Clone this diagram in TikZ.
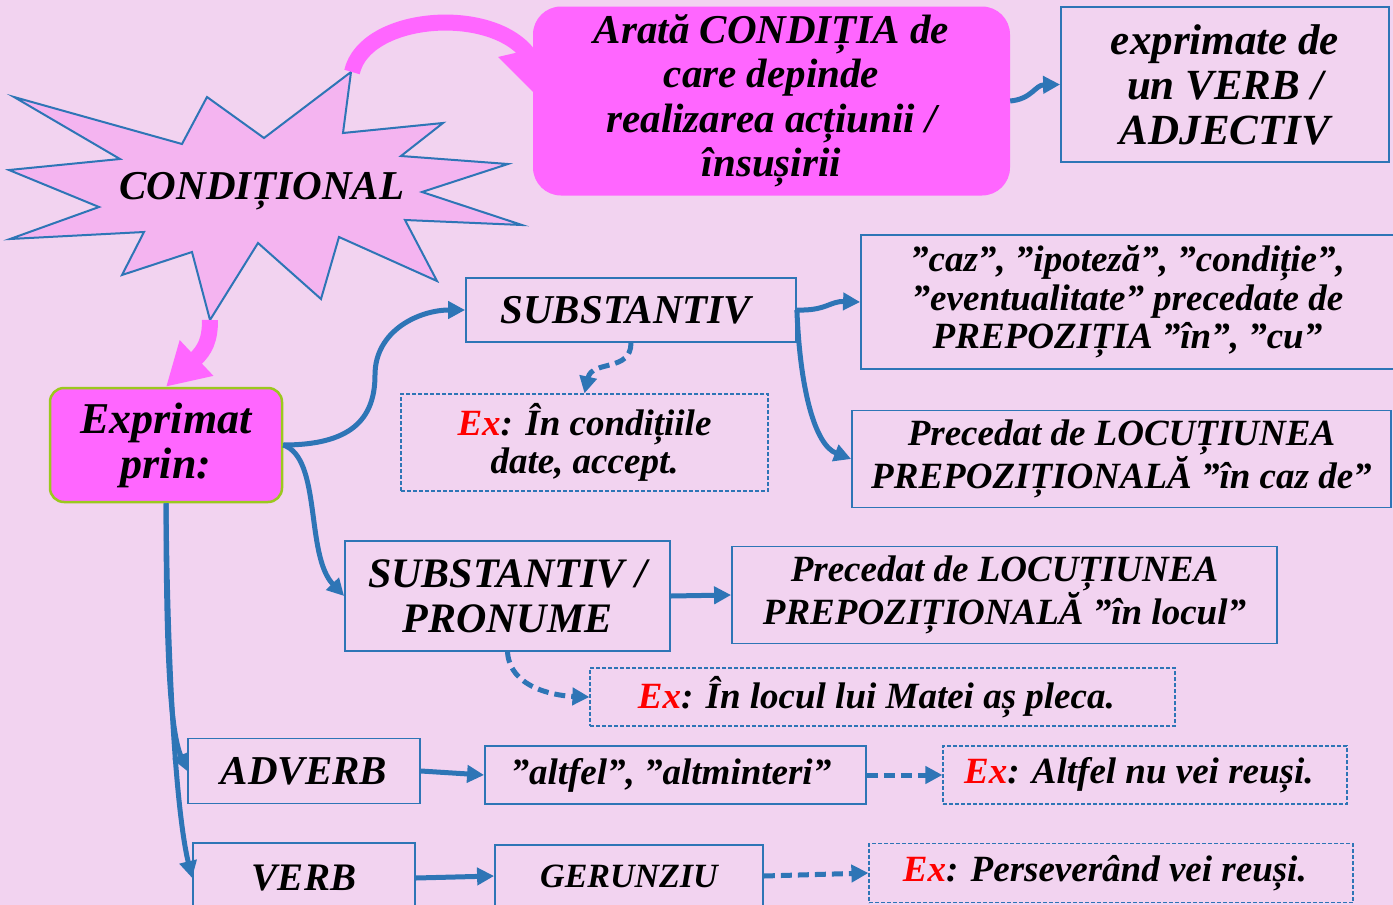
\documentclass[tikz,border=0pt]{standalone}
\usepackage{fontspec}
\setmainfont{Liberation Serif}
\usetikzlibrary{arrows.meta, positioning}

\definecolor{bgpink}{RGB}{242,211,240}
\definecolor{starpink}{RGB}{244,180,240}
\definecolor{hotpink}{RGB}{255,102,255}
\definecolor{lineblue}{RGB}{46,117,182}
\definecolor{limegreen}{RGB}{155,200,30}

\begin{document}
\begin{tikzpicture}[
    x=1pt, y=-1pt,
    box/.style={rectangle, draw=lineblue, line width=1.8pt,
                align=center, inner sep=0pt},
    exbox/.style={box, line width=1.2pt, dash pattern=on 4pt off 2pt},
    pinkbox/.style={rectangle, fill=hotpink, rounded corners=28pt,
                align=center, inner sep=0pt},
    arrow/.style={-{Triangle[length=17pt,width=17pt]}, line width=5pt, draw=lineblue},
    dasharrow/.style={arrow, dash pattern=on 11pt off 6pt},
    pinkarrow/.style={line width=16pt, draw=hotpink},
    fbig/.style={font=\fontsize{41}{45}\selectfont\bfseries\itshape},
    fmid/.style={font=\fontsize{42}{45}\selectfont\bfseries\itshape},
    fsmall/.style={font=\fontsize{37}{38.5}\selectfont\bfseries\itshape}
]
\useasboundingbox (0,0) rectangle (1393,905);
\clip (0,0) rectangle (1393,905);
\fill[bgpink] (0,0) rectangle (1393,905);

%% CONDITIONAL
\filldraw[fill=starpink, draw=lineblue, line width=2pt]
    (14,97) -- (182,144) -- (207,97) -- (264,138) -- (351,72) -- (343,133)
    -- (443,123) -- (401,156) -- (508,164) -- (422,192) -- (522,225)
    -- (405,220) -- (437,281) -- (339,237) -- (321,299) -- (258,243)
    -- (210,320) -- (192,252) -- (122,275) -- (144,232) -- (10,239)
    -- (99,207) -- (9,170) -- (120,159) -- cycle;
\node[fbig] (cond) at (262,191) {CONDIȚIONAL};
\coordinate (startop) at (352,72);
\coordinate (starbot) at (210,320);

%% ARATA
\node[pinkbox, font=\fontsize{41}{44.5}\selectfont\bfseries\itshape,
      minimum width=477pt, minimum height=189pt] (arata) at (771.5,101) {
    Arată CONDIȚIA de\\
    care depinde\\
    realizarea acțiunii /\\
    însușirii
};
\fill[hotpink] (498,57) -- (545,46) -- (545,104) -- cycle;
\draw[pinkarrow] (startop) .. controls (365,15) and (490,5) .. (528,54);

\node[box, font=\fontsize{43}{45}\selectfont\bfseries\itshape,
      minimum width=328pt, minimum height=155pt] (verbadj) at (1225,84.5) {
    exprimate de\\
    un VERB /\\
    ADJECTIV
};
\draw[arrow] (arata.east) .. controls (1032,99) and (1035,85) .. (verbadj.west);

%% EXPRIMAT PRIN
\node[pinkbox, draw=limegreen, line width=2.5pt, rounded corners=14pt,
      font=\fontsize{44}{45}\selectfont\bfseries\itshape,
      minimum width=232pt, minimum height=114pt] (prin) at (166,445) {
    Exprimat\\
    prin:
};
\draw[pinkarrow, -{Triangle[length=42pt,width=46pt]}]
    (starbot) .. controls (210,340) and (205,350) .. (prin.north);

%% SUBSTANTIV
\node[box, fbig, minimum width=330pt, minimum height=64pt] (subst) at (631,310) {
    SUBSTANTIV
};
\draw[arrow] (prin.east) .. controls (350,445) and (375,420) .. (375,375)
    .. controls (375,330) and (420,310) .. (subst.west);

\node[exbox, fsmall, minimum width=367pt, minimum height=97pt] (excond) at (584.5,442.5) {
    \textcolor{red}{Ex}: În condițiile\\
    date, accept.
};
\draw[dasharrow] (subst.south) .. controls (631,372) and (592,360) .. (excond.north);

\node[box, fsmall, minimum width=533pt, minimum height=134pt] (caz) at (1127.5,302) {
    ”caz”, ”ipoteză”, ”condiție”,\\
    ”eventualitate” precedate de\\
    PREPOZIȚIA ”în”, ”cu”
};
\draw[arrow] (subst.east) .. controls (826,311) and (830,301) .. (caz.west);

\node[box, fsmall, minimum width=539pt, minimum height=97pt] (cazde) at (1121.5,459) {
    Precedat de LOCUȚIUNEA\\
    PREPOZIȚIONALĂ ”în caz de”
};
\draw[arrow] (subst.east) .. controls (800,390) and (815,445) .. (cazde.west);

%% SUBSTANTIV / PRONUME
\node[box, fmid, minimum width=325pt, minimum height=110pt] (subpron) at (507.5,596) {
    SUBSTANTIV /\\
    PRONUME
};
\draw[arrow] (prin.east) .. controls (322,458) and (305,555) .. (subpron.west);

\node[box, fsmall, minimum width=545pt, minimum height=97pt] (locul) at (1004.5,595) {
    Precedat de LOCUȚIUNEA\\
    PREPOZIȚIONALĂ ”în locul”
};
\draw[arrow] (subpron.east) -- (locul.west);

\node[exbox, fsmall, minimum width=585pt, minimum height=58pt] (exlocul) at (882.5,697) {
    \textcolor{red}{Ex}: În locul lui Matei aș pleca.
};
\draw[dasharrow] (subpron.south) .. controls (510,690) and (560,696) .. (exlocul.west);

%% ADVERB
\node[box, fbig, minimum width=232pt, minimum height=65pt] (adverb) at (304,771) {ADVERB};
\draw[arrow] (prin.south) .. controls (166,650) and (170,730) .. (adverb.west);

\node[box, fsmall, minimum width=381pt, minimum height=58pt] (altfel) at (675.5,775) {
    ”altfel”, ”altminteri”
};
\draw[arrow] (adverb.east) -- (altfel.west);

\node[exbox, fsmall, minimum width=404pt, minimum height=58pt] (exaltfel) at (1145,775) {
    \textcolor{red}{Ex}: Altfel nu vei reuși.
};
\draw[dasharrow] (altfel.east) -- (exaltfel.west);

%% VERB
\node[box, font=\fontsize{39}{45}\selectfont\bfseries\itshape,
      minimum width=222pt, minimum height=70pt] (verb) at (304,878) {VERB};
\draw[arrow] (prin.south) .. controls (168,700) and (178,820) .. (verb.west);

\node[box, font=\fontsize{34}{38}\selectfont\bfseries\itshape,
      minimum width=268pt, minimum height=62pt] (gerun) at (629,876) {GERUNZIU};
\draw[arrow] (verb.east) -- (gerun.west);

\node[exbox, fsmall, minimum width=484pt, minimum height=59pt] (exgerun) at (1111,873) {
    \textcolor{red}{Ex}: Perseverând vei reuși.
};
\draw[dasharrow] (gerun.east) -- (exgerun.west);

\end{tikzpicture}
\end{document}
